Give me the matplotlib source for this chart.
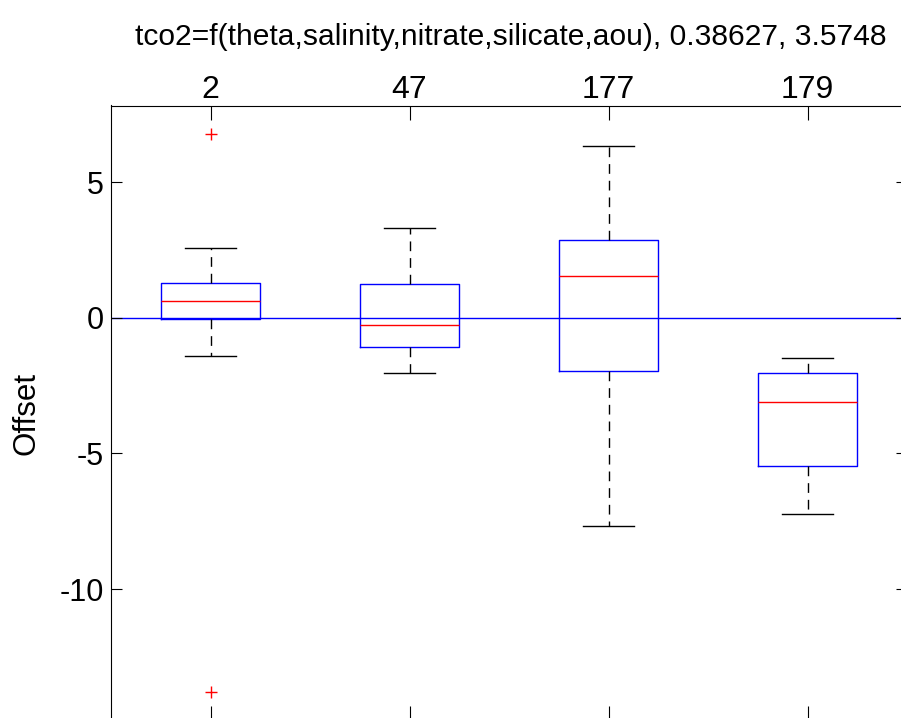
import matplotlib
matplotlib.use("Agg")
import matplotlib.pyplot as plt

plt.rcParams['font.family'] = ['Liberation Sans', 'DejaVu Sans']

# Data
labels = ["2", "47", "177", "179"]
whislo = [-1.42, -2.04, -7.68, -7.22]
q1 = [-0.06, -1.07, -1.98, -5.46]
med = [0.62, -0.27, 1.55, -3.12]
q3 = [1.29, 1.24, 2.87, -2.03]
whishi = [2.58, 3.29, 6.34, -1.47]
fliers = [[6.78, -13.77], [], [], []]
yticks = [-10, -5, 0, 5]
title = "tco2=f(theta,salinity,nitrate,silicate,aou), 0.38627, 3.5748"

stats = []
for i in range(len(labels)):
    stats.append(dict(label=labels[i], whislo=whislo[i], q1=q1[i], med=med[i],
                      q3=q3[i], whishi=whishi[i], fliers=fliers[i]))

fig = plt.figure(figsize=(9.01, 7.18), dpi=100)
ax = fig.add_axes([111/901, 1 - 720/718, (907 - 111)/901, (720 - 105.5)/718])

ax.axhline(0, color=(0, 0, 1), lw=1, zorder=1)

ax.bxp(stats, positions=[1, 2, 3, 4], widths=0.5,
       boxprops=dict(color=(0, 0, 1), lw=1),
       medianprops=dict(color=(1, 0, 0), lw=1),
       whiskerprops=dict(color='black', lw=1, linestyle=(0, (7, 5))),
       capprops=dict(color='black', lw=1),
       flierprops=dict(marker='+', markeredgecolor=(1, 0, 0), markersize=8,
                       markeredgewidth=1, linestyle='none'),
       capwidths=0.26, zorder=2)

ax.set_xlim(0.5, 4.5)
ax.set_ylim(-14.82, 7.82)
ax.set_xticks([1, 2, 3, 4])
ax.set_xticklabels(labels)
ax.set_yticks(yticks)
ax.set_yticklabels([str(v) for v in yticks])

ax.tick_params(axis='both', direction='in', top=True, bottom=True, left=True,
               right=True, labeltop=True, labelbottom=False,
               width=0.8, color='black')
ax.tick_params(axis='x', length=10, pad=0, labelsize=23)
ax.tick_params(axis='y', length=8, pad=5, labelsize=22)

for s in ax.spines.values():
    s.set_linewidth(0.8)
    s.set_color('black')

fig.text(511/901, 1 - 37/718, title, ha='center', va='center', fontsize=21.6)
fig.text(27/901, 1 - 413/718, "Offset", rotation=90, ha='center', va='center',
         fontsize=22.5)

fig.savefig("out.png", dpi=100)
